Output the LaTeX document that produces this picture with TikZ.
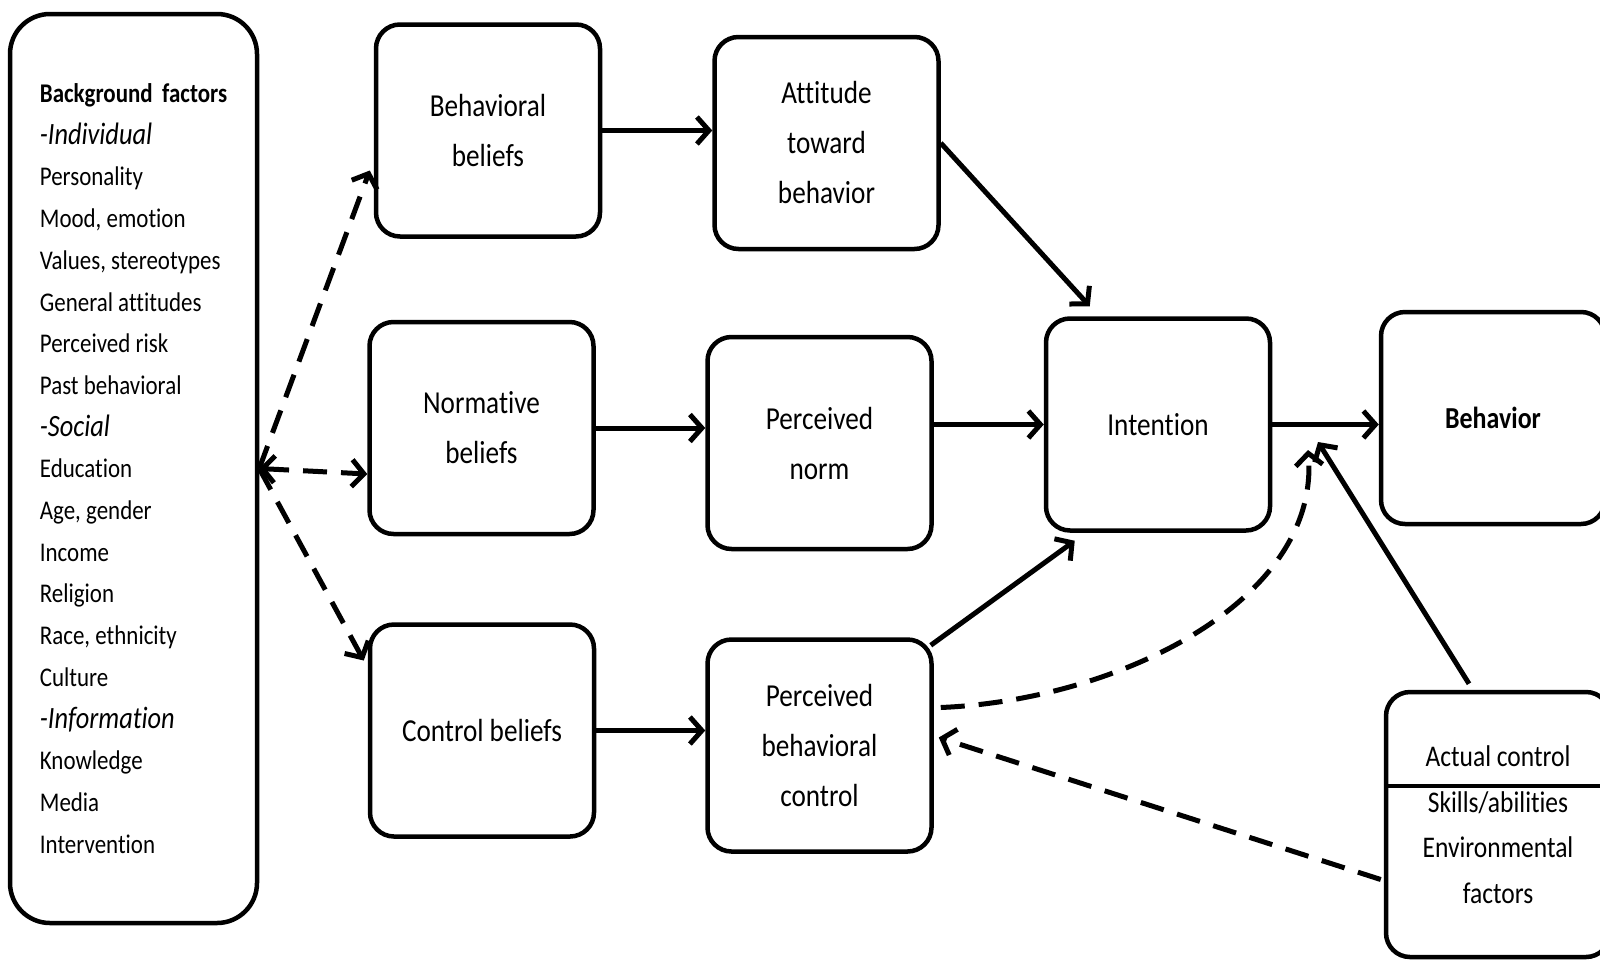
\documentclass[tikz,border=0pt]{standalone}
\usepackage{fontspec}
\setmainfont{Carlito}[FakeStretch=0.85, Ligatures={NoCommon}]
\usepackage{tikz}
\usetikzlibrary{calc,arrows.meta}
\newcommand{\grp}[1]{{\fontsize{31}{41.7}\selectfont\itshape #1}}
\tikzset{
  >={Straight Barb[length=12pt,width=27pt,line width=5pt]},
  box/.style={draw=black, line width=4.5pt, rounded corners=24pt, inner sep=0pt, minimum width=224pt, minimum height=212pt, align=center, font=\fontsize{32}{50}\selectfont},
  bgbox/.style={box, rounded corners=40pt, minimum width=247pt, minimum height=909pt, align=left, font=\fontsize{27}{41.7}\selectfont},
  acbox/.style={box, minimum height=265pt, font=\fontsize{30}{45.6}\selectfont},
  arr/.style={line width=5pt, ->},
  darr/.style={arr, dash pattern=on 24pt off 14pt},
}

\begin{document}
\begin{tikzpicture}[x=1pt,y=-1pt]
  \useasboundingbox (0,0) rectangle (1600,959);
  \node[bgbox] (bg) at (133.5,468.5) {\textbf{Background\hspace{0.35em}factors}\\ \grp{-Individual}\\ Personality\\ Mood, emotion\\ Values, stereotypes\\ General attitudes\\ Perceived risk\\ Past behavioral\\ \grp{-Social}\\ Education\\ Age, gender\\ Income\\ Religion\\ Race, ethnicity\\ Culture\\ \grp{-Information}\\ Knowledge\\ Media\\ Intervention};
  \node[box] (bb) at (488,130.5) {Behavioral\\beliefs};
  \node[box] (att) at (826.5,143) {Attitude\\toward\\behavior};
  \node[box] (nb) at (481.5,428) {Normative\\beliefs};
  \node[box] (pn) at (819.5,443) {Perceived\\norm};
  \node[box] (cb) at (482,730.5) {Control beliefs};
  \node[box] (pbc) at (819.5,745.5) {Perceived\\behavioral\\control};
  \node[box] (int) at (1158,424.5) {Intention};
  \node[box, font=\fontsize{30.5}{50}\selectfont\bfseries] (beh) at (1493,418) {Behavior};
  \node[acbox] (ac) at (1498,824.5) {Actual control\\Skills/abilities\\Environmental\\factors};
  \draw[line width=4.5pt] (ac.west |- 0,786) -- (ac.east |- 0,786);
  \coordinate (gap) at (1318,442);
  \coordinate (gapd) at (1308,450);

  \draw[arr] (bb.east) -- (att.west |- bb.east);
  \draw[arr] (nb.east) -- (pn.west |- nb.east);
  \draw[arr] (cb.east) -- (pbc.west |- cb.east);
  \draw[arr] (pn.east |- int.west) -- (int.west);
  \draw[arr] (int.east) -- (beh.west |- int.east);
  \draw[arr] (att.east) -- ($(int.north west)+(46,-10)$);
  \draw[arr] ($(pbc.north east)+(-3,8)$) -- ($(int.south west)+(31,8)$);
  \draw[arr] ($(ac.north)+(-29,-6)$) -- (gap);

  \draw[darr] (bg.east) -- ($(bb.west)+(-4,40)$);
  \draw[darr,<->] (bg.east) -- ($(nb.west)+(0,46)$);
  \draw[darr] (bg.east) -- ($(cb.west)+(-4,-70)$);
  \draw[darr] ($(pbc.east)+(7,-38)$) .. controls (1120,700) and (1320,600) .. (gapd);
  \draw[darr] ($(ac.west)+(-3,55)$) -- ($(pbc.east)+(5,-8)$);
\end{tikzpicture}
\end{document}
